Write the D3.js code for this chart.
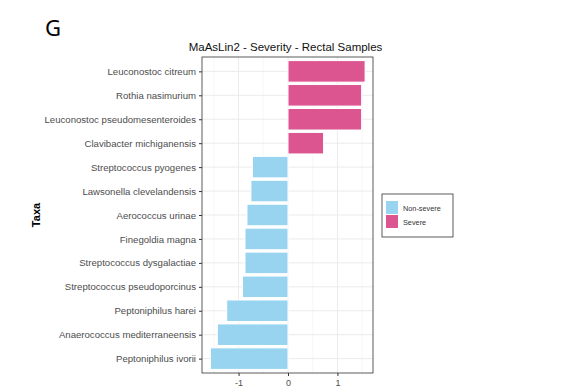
<!DOCTYPE html>
<html>
<head>
<meta charset="utf-8">
<script src="https://cdn.jsdelivr.net/npm/d3@7"></script>
<style>
  body { margin: 0; background: #fff; }
  text { font-family: "Liberation Sans", Arial, sans-serif; }
</style>
</head>
<body>
<script>
// Data
let taxa = [
  "Leuconostoc citreum", "Rothia nasimurium", "Leuconostoc pseudomesenteroides",
  "Clavibacter michiganensis", "Streptococcus pyogenes", "Lawsonella clevelandensis",
  "Aerococcus urinae", "Finegoldia magna", "Streptococcus dysgalactiae",
  "Streptococcus pseudoporcinus", "Peptoniphilus harei", "Anaerococcus mediterraneensis",
  "Peptoniphilus ivorii"
];
let coefs = [1.56, 1.49, 1.49, 0.72, -0.72, -0.75, -0.83, -0.87, -0.87, -0.92, -1.24, -1.43, -1.57];
let groups = ["Non-severe", "Severe"];
let colors = ["#98D4F0", "#DC5590"];
let xTicks = [-1, 0, 1];
let xMinor = [-1.5, -0.5, 0.5, 1.5];

let W = 562, H = 388;
let panel = { left: 202, right: 373, top: 57, bottom: 373 };

let svg = d3.select("body").append("svg")
  .attr("width", W).attr("height", H);

let x = d3.scaleLinear().domain([-1.74, 1.72]).range([panel.left, panel.right]);
let y = d3.scalePoint().domain(taxa).range([panel.top, panel.bottom]).padding(0.6);
let step = y.step();

// gridlines
let grid = svg.append("g");
grid.selectAll(".minor").data(xMinor).enter().append("line")
  .attr("x1", d => x(d)).attr("x2", d => x(d))
  .attr("y1", panel.top).attr("y2", panel.bottom)
  .attr("stroke", "#f2f2f2").attr("stroke-width", 0.6);
grid.selectAll(".major").data(xTicks).enter().append("line")
  .attr("x1", d => x(d)).attr("x2", d => x(d))
  .attr("y1", panel.top).attr("y2", panel.bottom)
  .attr("stroke", "#ebebeb").attr("stroke-width", 1);
grid.selectAll(".hmajor").data(taxa).enter().append("line")
  .attr("x1", panel.left).attr("x2", panel.right)
  .attr("y1", d => y(d)).attr("y2", d => y(d))
  .attr("stroke", "#ebebeb").attr("stroke-width", 1);

// bars
svg.selectAll(".bar").data(taxa).enter().append("rect")
  .attr("x", (d, i) => Math.min(x(0), x(coefs[i])))
  .attr("width", (d, i) => Math.abs(x(coefs[i]) - x(0)))
  .attr("y", d => y(d) - step * 0.45)
  .attr("height", step * 0.9)
  .attr("fill", (d, i) => coefs[i] > 0 ? colors[1] : colors[0])
  .attr("stroke", "#fff").attr("stroke-width", 1);

// panel border
svg.append("rect")
  .attr("x", panel.left).attr("y", panel.top)
  .attr("width", panel.right - panel.left).attr("height", panel.bottom - panel.top)
  .attr("fill", "none").attr("stroke", "#333").attr("stroke-width", 0.8);

// axes
let xAxis = svg.append("g")
  .attr("transform", "translate(0," + panel.bottom + ")")
  .call(d3.axisBottom(x).tickValues(xTicks).tickSize(3).tickPadding(4).tickFormat(d => String(d)));
xAxis.select(".domain").remove();
xAxis.selectAll("line").attr("stroke", "#333");
xAxis.selectAll("text").attr("fill", "#4d4d4d").style("font-size", "9px")
  .style("font-family", "Liberation Sans, Arial, sans-serif");

let yAxis = svg.append("g")
  .attr("transform", "translate(" + panel.left + ",0)")
  .call(d3.axisLeft(y).tickSize(3).tickPadding(3));
yAxis.select(".domain").remove();
yAxis.selectAll("line").attr("stroke", "#333");
yAxis.selectAll("text").attr("fill", "#4d4d4d").style("font-size", "9.6px")
  .style("font-family", "Liberation Sans, Arial, sans-serif");

// titles
svg.append("text")
  .attr("x", (panel.left + panel.right) / 2 - 2).attr("y", 51)
  .attr("text-anchor", "middle").style("font-size", "11.5px").attr("fill", "#111")
  .text("MaAsLin2 - Severity - Rectal Samples");

svg.append("text")
  .attr("transform", "translate(40," + ((panel.top + panel.bottom) / 2) + ") rotate(-90)")
  .attr("text-anchor", "middle").style("font-size", "11px").style("font-weight", "bold")
  .text("Taxa");

svg.append("text")
  .attr("x", 45).attr("y", 36)
  .style("font-size", "22px").style("font-family", "Noto Sans, sans-serif")
  .text("G");

// legend
let legend = svg.append("g").attr("transform", "translate(382,194)");
legend.append("rect").attr("width", 71).attr("height", 43)
  .attr("fill", "#fff").attr("stroke", "#333").attr("stroke-width", 0.8);
groups.forEach((g, i) => {
  legend.append("rect")
    .attr("x", 4).attr("y", 7 + i * 14)
    .attr("width", 12).attr("height", 13)
    .attr("fill", colors[i]);
  legend.append("text")
    .attr("x", 21).attr("y", 17 + i * 14)
    .style("font-size", "7.3px").attr("fill", "#333")
    .text(g);
});
</script>
</body>
</html>
